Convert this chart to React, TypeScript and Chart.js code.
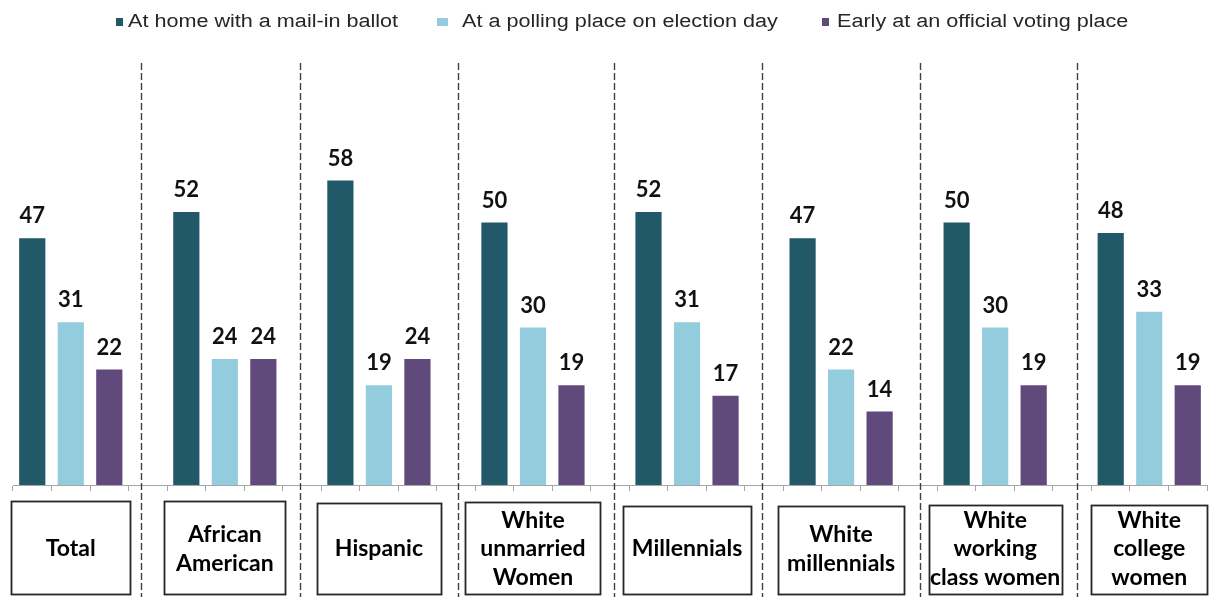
import React, { useEffect, useRef } from 'react';
import { Chart, registerables } from 'chart.js';

Chart.register(...registerables);

const groupLabels: string[][] = [
  ['Total'],
  ['African', 'American'],
  ['Hispanic'],
  ['White', 'unmarried', 'Women'],
  ['Millennials'],
  ['White', 'millennials'],
  ['White', 'working', 'class women'],
  ['White', 'college', 'women'],
];
const seriesNames = [
  'At home with a mail-in ballot',
  'At a polling place on election day',
  'Early at an official voting place',
];
const mailIn = [47, 52, 58, 50, 52, 47, 50, 48];
const pollingPlace = [31, 24, 19, 30, 31, 22, 30, 33];
const earlyVoting = [22, 24, 24, 19, 17, 14, 19, 19];
const seriesColors = ['#215968', '#93CDDD', '#604A7B'];

// styling helpers (layout only)
const legendMarkerX = [116, 437, 822];
const legendMarkerW = [7, 11, 7];
const legendTextX = [128, 462, 837];
const boxWidths = [119, 121, 124, 135, 128, 126, 133, 116];
const boxTopOffsets = [16, 16, 18, 17, 21, 21, 20, 20];
const dividerShift = [-7, -2, 2, 4, -2, 2, 5];

const SLOTS_PER_GROUP = 4;
const slotCount = groupLabels.length * SLOTS_PER_GROUP - 1;
const slotLabels = Array.from({ length: slotCount }, (_, i) => String(i));

function toSlots(values: number[], seriesIndex: number): (number | null)[] {
  const arr: (number | null)[] = Array(slotCount).fill(null);
  values.forEach((v, g) => {
    arr[g * SLOTS_PER_GROUP + seriesIndex] = v;
  });
  return arr;
}

const decorPlugin = {
  id: 'decor',
  afterDraw(chart: any) {
    const ctx = chart.ctx;
    const area = chart.chartArea;
    const xs = chart.scales.x;
    const H = chart.height;

    // dividers
    ctx.save();
    ctx.strokeStyle = '#404040';
    ctx.lineWidth = 1.4;
    ctx.setLineDash([7, 3]);
    for (let g = 0; g < groupLabels.length - 1; g++) {
      const x = Math.round(xs.getPixelForValue(g * SLOTS_PER_GROUP + 3) + dividerShift[g]) + 0.5;
      ctx.beginPath();
      ctx.moveTo(x, area.top - 2);
      ctx.lineTo(x, H);
      ctx.stroke();
    }
    ctx.restore();

    // data labels
    ctx.save();
    ctx.font = 'bold 22px Lato';
    ctx.fillStyle = '#111';
    ctx.textAlign = 'center';
    ctx.textBaseline = 'alphabetic';
    chart.data.datasets.forEach((ds: any, di: number) => {
      const meta = chart.getDatasetMeta(di);
      meta.data.forEach((el: any, i: number) => {
        const v = ds.data[i];
        if (v === null || v === undefined) return;
        ctx.fillText(String(v), el.x, el.y - 15);
      });
    });
    ctx.restore();

    // category boxes
    ctx.save();
    const boxBottom = H - 3;
    groupLabels.forEach((lines, g) => {
      const cx = xs.getPixelForValue(g * SLOTS_PER_GROUP + 1);
      const boxW = boxWidths[g];
      const boxTop = area.bottom + boxTopOffsets[g];
      ctx.strokeStyle = '#262626';
      ctx.lineWidth = 1.8;
      ctx.strokeRect(Math.round(cx - boxW / 2) + 0.5, boxTop + 0.5, boxW, boxBottom - boxTop);
      ctx.font = 'bold 23px Lato';
      ctx.fillStyle = '#000';
      ctx.textAlign = 'center';
      ctx.textBaseline = 'middle';
      const lh = 28.5;
      const cy = 549;
      lines.forEach((t, li) => {
        ctx.fillText(t, cx, cy + (li - (lines.length - 1) / 2) * lh);
      });
    });
    ctx.restore();

    // legend
    ctx.save();
    ctx.font = '18px "Liberation Sans"';
    ctx.textBaseline = 'middle';
    ctx.textAlign = 'left';
    chart.data.datasets.forEach((ds: any, di: number) => {
      ctx.fillStyle = ds.backgroundColor;
      ctx.fillRect(legendMarkerX[di], 18, legendMarkerW[di], 8);
      ctx.fillStyle = '#262626';
      ctx.save();
      ctx.translate(legendTextX[di], 22);
      ctx.scale(1.2, 1);
      ctx.fillText(ds.label, 0, 0);
      ctx.restore();
    });
    ctx.restore();
  },
};

export default function App() {
  const ref = useRef<HTMLCanvasElement | null>(null);
  useEffect(() => {
    document.body.style.margin = '0';
    if (!ref.current) return;
    const chart = new Chart(ref.current, {
      type: 'bar',
      data: {
        labels: slotLabels,
        datasets: [mailIn, pollingPlace, earlyVoting].map((vals, si) => ({
          label: seriesNames[si],
          data: toSlots(vals, si),
          backgroundColor: seriesColors[si],
          borderWidth: 0,
          grouped: false,
          barPercentage: 0.68,
          categoryPercentage: 1,
        })),
      },
      options: {
        responsive: false,
        animation: false,
        layout: { padding: { left: 13, right: 3, top: 65, bottom: 0 } },
        plugins: { legend: { display: false }, tooltip: { enabled: false } },
        scales: {
          x: {
            type: 'category',
            offset: true,
            grid: {
              offset: true,
              drawOnChartArea: false,
              drawTicks: true,
              tickLength: 6,
              color: '#a6a6a6',
            },
            border: { display: true, color: '#a6a6a6', width: 1 },
            ticks: { display: false, autoSkip: false },
            afterFit: (s: any) => {
              s.height = 112;
            },
          },
          y: { display: false, min: 0, max: 80 },
        },
      },
      plugins: [decorPlugin],
    } as any);
    return () => chart.destroy();
  }, []);
  return (
    <div style={{ width: 1210, height: 597 }}>
      <canvas ref={ref} width={1210} height={597} style={{ display: 'block' }} />
    </div>
  );
}
